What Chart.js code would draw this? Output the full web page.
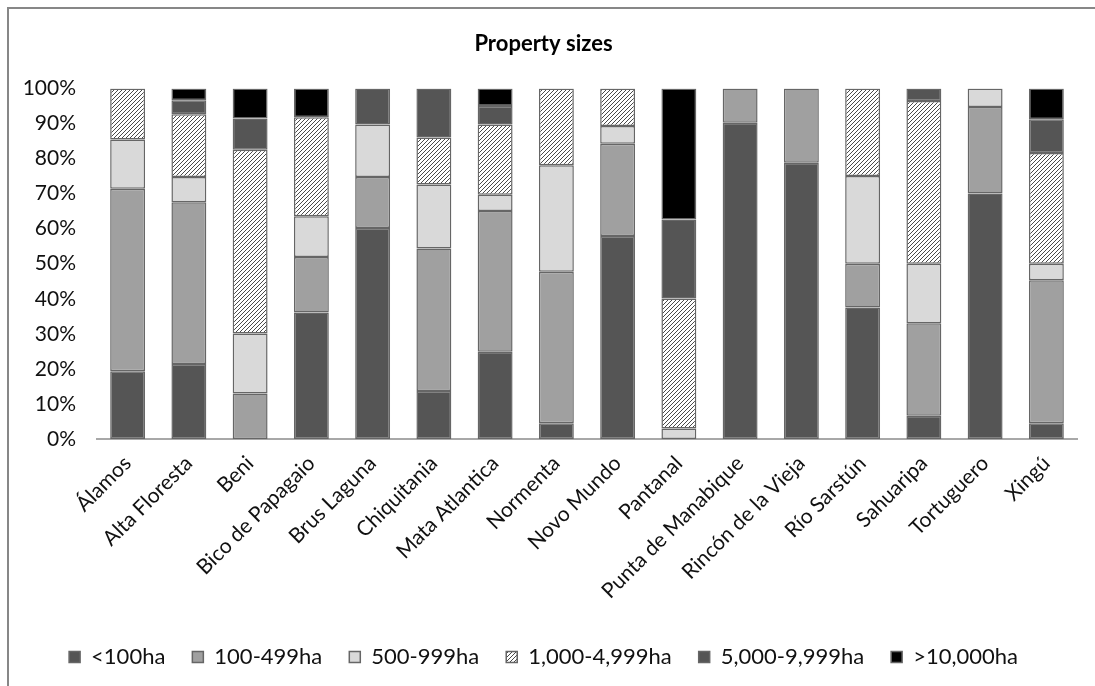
<!DOCTYPE html>
<html>
<head>
<meta charset="utf-8">
<script src="https://cdn.jsdelivr.net/npm/chart.js@4.4.0/dist/chart.umd.min.js"></script>
<style>
  html, body { margin: 0; padding: 0; background: #fff; }
</style>
</head>
<body>
<canvas id="sizeChart" width="1095" height="686"></canvas>
<script>
var sites = ["Álamos", "Alta Floresta", "Beni", "Bico de Papagaio", "Brus Laguna", "Chiquitania",
  "Mata Atlantica", "Normenta", "Novo Mundo", "Pantanal", "Punta de Manabique",
  "Rincón de la Vieja", "Río Sarstún", "Sahuaripa", "Tortuguero", "Xingú"];

// share of properties per size class, percent
var under100   = [19.3, 21.4, 0,    36.1, 60.2, 13.7, 24.9, 4.5,  57.9, 0,    90.2, 78.8, 37.5, 6.6,  70.0, 4.5];
var from100    = [52.1, 46.1, 13.0, 15.8, 14.5, 40.6, 40.1, 43.2, 26.3, 0,    9.8,  21.2, 12.5, 26.4, 24.7, 40.8];
var from500    = [14.0, 7.2,  17.1, 11.6, 15.0, 18.3, 4.7,  30.4, 5.1,  3.0,  0,    0,    25.0, 17.0, 5.3,  4.7];
var from1000   = [14.6, 17.9, 52.4, 28.3, 0,    13.4, 20.0, 21.9, 10.7, 37.1, 0,    0,    25.0, 46.4, 0,    31.6];
var from5000   = [0,    4.0,  8.9,  0,    10.3, 14.0, 5.3,  0,    0,    22.5, 0,    0,    0,    3.6,  0,    9.6];
var over10000  = [0,    3.4,  8.6,  8.2,  0,    0,    5.0,  0,    0,    37.4, 0,    0,    0,    0,    0,    8.8];

var yTicks = [0, 10, 20, 30, 40, 50, 60, 70, 80, 90, 100];

var FONT = "Lato, 'Open Sans', sans-serif";
var edge = '#666666';

function hatch() {
  var c = document.createElement('canvas');
  c.width = 4; c.height = 4;
  var g = c.getContext('2d');
  g.fillStyle = '#ffffff';
  g.fillRect(0, 0, 4, 4);
  g.strokeStyle = '#4a4a4a';
  g.lineWidth = 1;
  g.beginPath();
  g.moveTo(0, 4); g.lineTo(4, 0);
  g.moveTo(-1, 1); g.lineTo(1, -1);
  g.moveTo(3, 5); g.lineTo(5, 3);
  g.stroke();
  return g.createPattern(c, 'repeat');
}

function vals(a) {
  return a.map(function (v) { return v === 0 ? null : v; });
}

function series(label, arr, fill) {
  return {
    label: label,
    data: vals(arr),
    backgroundColor: fill,
    borderColor: edge,
    borderWidth: 1.5,
    borderSkipped: false,
    categoryPercentage: 1,
    barPercentage: 0.57
  };
}

var frame = {
  id: 'frame',
  beforeDraw: function (chart) {
    var c = chart.ctx;
    c.save();
    c.strokeStyle = '#878787';
    c.lineWidth = 2;
    c.beginPath();
    c.moveTo(8, 686);
    c.lineTo(8, 8);
    c.lineTo(1095, 8);
    c.stroke();
    c.restore();
  }
};

var ctx = document.getElementById('sizeChart').getContext('2d');
var sizeChart = new Chart(ctx, {
  type: 'bar',
  data: {
    labels: sites,
    datasets: [
      series('<100ha', under100, '#555555'),
      series('100-499ha', from100, '#a0a0a0'),
      series('500-999ha', from500, '#d9d9d9'),
      series('1,000-4,999ha', from1000, hatch()),
      series('5,000-9,999ha', from5000, '#555555'),
      series('>10,000ha', over10000, '#000000')
    ]
  },
  plugins: [frame],
  options: {
    responsive: false,
    animation: false,
    layout: { padding: { top: 12, left: 10, right: 18, bottom: 8 } },
    plugins: {
      title: {
        display: true,
        text: 'Property sizes',
        color: '#000',
        font: { family: FONT, size: 22, weight: 'bold' },
        padding: { top: 19, bottom: 31 }
      },
      legend: {
        position: 'bottom',
        labels: {
          color: '#111',
          font: { family: FONT, size: 22 },
          boxWidth: 11,
          boxHeight: 11,
          padding: 27
        }
      },
      tooltip: { enabled: false }
    },
    scales: {
      x: {
        stacked: true,
        grid: { display: false },
        border: { display: true, color: '#a8a8a8', width: 2 },
        ticks: {
          color: '#111',
          font: { family: FONT, size: 21 },
          minRotation: 45,
          maxRotation: 45,
          autoSkip: false,
          padding: 4
        },
        afterFit: function (s) { s.height = 180; }
      },
      y: {
        stacked: true,
        min: 0,
        max: 100,
        grid: { display: false, drawTicks: false },
        border: { display: false },
        afterBuildTicks: function (s) {
          s.ticks = yTicks.map(function (v) { return { value: v }; });
        },
        ticks: {
          color: '#111',
          font: { family: FONT, size: 21 },
          padding: 21,
          callback: function (v) { return v + '%'; }
        },
        afterFit: function (s) { s.width = 87; }
      }
    }
  }
});
</script>
</body>
</html>
